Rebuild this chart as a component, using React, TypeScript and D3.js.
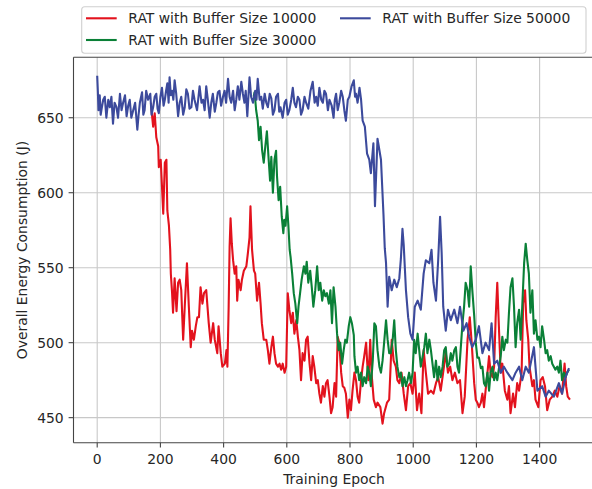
import React from "react";
import * as d3 from "d3";

const xTicks = [0, 200, 400, 600, 800, 1000, 1200, 1400];
const yTicks = [450, 500, 550, 600, 650];

const seriesNames = [
  "RAT with Buffer Size 10000",
  "RAT with Buffer Size 30000",
  "RAT with Buffer Size 50000",
];
const seriesColors = ["#e3121d", "#0a8037", "#3c4a9c"];

// [epoch, energy] — the early parts of the 10000 / 30000 runs lie under the 50000 curve
const rat10000: [number, number][] = [
  [170,660],[172,655],[177,644],[182,653],[187,637],[193,631],[195,617],[201,622],[205,604],[209,586],[214,620],
  [219,622],[222,588],[227,578],[231,562],[233,546],[237,533],[240,520],[245,543],[251,521],[256,540],
  [261,542],[266,535],[272,502],[277,524],[284,553],[290,524],[296,497],[300,508],[306,502],[312,511],
  [317,517],[322,517],[327,537],[333,526],[338,533],[345,535],[353,513],[359,500],[367,513],[372,502],
  [380,493],[384,511],[391,493],[396,484],[404,486],[409,495],[412,484],[416,524],[419,564],[422,583],
  [426,566],[430,555],[435,546],[440,551],[443,528],[447,542],[454,535],[458,542],[464,548],[472,551],
  [477,560],[482,570],[485,591],[490,562],[496,548],[500,546],[506,528],[512,540],[517,526],[521,513],
  [527,502],[535,502],[540,495],[545,486],[551,497],[556,504],[561,493],[566,486],[572,484],[577,486],
  [582,482],[587,486],[593,480],[598,484],[603,533],[608,522],[614,513],[619,520],[624,506],[630,515],
  [635,504],[640,495],[645,475],[650,493],[656,488],[661,502],[666,504],[672,486],[677,475],[682,491],
  [687,484],[693,473],[698,475],[703,466],[708,460],[714,471],[719,464],[724,473],[729,475],[735,464],
  [740,453],[745,457],[751,473],[756,464],[761,504],[766,500],[772,480],[777,471],[782,470],[787,466],
  [793,450],[798,462],[803,455],[808,468],[814,480],[819,475],[824,464],[829,460],[835,475],[840,484],
  [845,491],[851,500],[854,488],[858,475],[864,502],[868,480],[875,462],[882,457],[887,460],[896,457],
  [903,446],[908,453],[917,460],[924,462],[932,502],[938,488],[945,484],[950,475],[956,473],[963,480],
  [970,466],[977,455],[984,471],[991,473],[998,466],[1005,480],[1012,455],[1019,466],[1026,453],[1033,495],
  [1040,480],[1047,466],[1056,468],[1064,466],[1072,473],[1079,477],[1087,468],[1096,482],[1103,493],[1110,480],
  [1117,484],[1124,475],[1132,480],[1140,473],[1148,475],[1156,453],[1163,464],[1172,502],[1179,517],[1185,500],
  [1193,473],[1198,462],[1203,460],[1208,457],[1214,460],[1219,466],[1224,457],[1229,468],[1235,480],[1240,491],
  [1245,480],[1251,477],[1256,484],[1261,517],[1266,540],[1272,506],[1277,480],[1282,486],[1290,468],[1298,462],
  [1303,471],[1308,453],[1316,466],[1322,457],[1329,473],[1335,468],[1343,480],[1348,526],[1354,535],[1358,515],
  [1364,502],[1368,484],[1377,471],[1382,475],[1387,462],[1396,457],[1403,475],[1410,477],[1417,471],[1424,455],
  [1432,462],[1440,464],[1448,468],[1456,464],[1463,471],[1471,466],[1479,486],[1484,471],[1489,464],[1496,462],
];

const rat30000: [number, number][] = [
  [495,664],
  [498,667],[503,655],[508,648],[512,635],[517,644],[522,628],[527,620],[532,631],[537,641],[542,624],
  [547,608],[551,624],[556,600],[561,622],[566,628],[569,611],[574,595],[579,604],[584,584],[589,573],
  [592,582],[596,578],[601,591],[605,578],[609,562],[612,557],[617,546],[622,533],[627,526],[633,513],
  [637,524],[642,533],[647,542],[654,551],[659,546],[663,554],[668,540],[674,548],[679,537],[684,524],
  [690,535],[696,551],[701,535],[706,540],[712,528],[717,535],[722,531],[727,533],[733,526],[738,535],
  [743,513],[748,537],[754,524],[759,506],[764,495],[769,500],[775,486],[780,495],[785,502],[790,500],
  [796,511],[801,517],[806,513],[812,505],[814,491],[819,480],[824,484],[829,475],[835,480],[840,471],
  [845,477],[851,473],[856,484],[861,480],[866,471],[872,488],[877,513],[882,511],[887,495],[893,484],
  [898,480],[903,488],[908,500],[914,515],[919,502],[924,493],[929,493],[935,502],[940,515],[945,495],
  [950,484],[956,477],[961,480],[966,471],[972,477],[977,471],[982,475],[987,480],[993,473],[998,480],
  [1003,502],[1008,493],[1014,506],[1019,495],[1024,484],[1030,491],[1035,497],[1040,506],[1045,493],[1051,502],
  [1056,495],[1061,486],[1066,477],[1072,488],[1077,475],[1082,484],[1087,477],[1093,484],[1098,495],[1103,497],
  [1108,484],[1114,486],[1119,493],[1124,488],[1130,495],[1135,497],[1140,484],[1145,480],[1150,495],[1156,513],
  [1161,524],[1166,540],[1172,535],[1177,524],[1182,551],[1187,535],[1193,518],[1198,500],[1203,490],[1208,490],
  [1214,483],[1219,484],[1224,473],[1229,471],[1235,480],[1240,468],[1245,480],[1251,484],[1256,475],[1261,480],
  [1266,475],[1272,484],[1277,491],[1282,504],[1287,495],[1293,502],[1298,500],[1303,520],[1308,537],[1314,543],
  [1319,524],[1324,497],[1329,513],[1335,522],[1340,502],[1345,524],[1351,553],[1356,566],[1361,555],[1366,546],
  [1371,520],[1377,535],[1382,506],[1387,515],[1393,502],[1398,504],[1403,497],[1408,511],[1414,502],[1419,493],
  [1424,495],[1429,488],[1435,491],[1440,486],[1445,484],[1450,482],[1456,484],[1461,480],[1466,488],[1471,475],
  [1477,480],[1482,477],[1487,480],[1493,482],
];

const rat50000: [number, number][] = [
  [0,678],[2,668],[4,655],[8,665],[11,652],[14,656],[19,662],[24,664],[29,650],[35,662],[40,657],[45,664],[50,646],
  [55,660],[61,657],[66,650],[72,666],[77,655],[82,660],[88,665],[93,651],[98,658],[103,662],[108,650],[114,655],[120,660],[127,642],[131,652],[135,660],[142,667],[146,652],[150,655],
  [155,668],[161,662],[168,666],[172,652],[177,657],[182,664],[187,666],[191,656],[195,653],[200,664],[205,670],[210,658],[214,662],[218,668],[222,673],[226,660],[229,677],[233,665],[237,668],
  [241,662],[245,675],[250,666],[256,651],[261,660],[266,664],[272,652],[277,657],[282,669],[287,666],[292,656],[298,657],[303,668],[308,662],[316,655],[324,671],[330,660],[335,662],[340,655],[345,671],
  [350,662],[356,650],[361,660],[366,666],[372,654],[377,660],[382,667],[387,668],[392,658],[398,664],[403,668],[408,660],[414,676],[419,664],[424,660],[430,668],[435,655],[440,662],[445,671],
  [450,662],[456,674],[461,666],[466,660],[470,668],[475,651],[482,677],[487,664],[493,660],[500,668],[504,662],[508,676],[514,662],[519,664],[524,656],[530,666],[535,660],[540,657],
  [546,666],[551,663],[556,652],[561,655],[566,664],[572,666],[576,654],[580,657],[587,650],[593,660],[598,662],[603,652],[608,655],[614,662],[619,670],[624,660],[629,657],[635,664],[640,662],
  [645,652],[650,655],[656,664],[661,660],[668,656],[675,668],[682,674],[688,660],[693,664],[698,658],[703,670],[709,662],[714,660],[719,668],[724,666],[730,655],[735,662],[742,658],[748,650],
  [752,662],[756,666],[761,655],[766,660],[772,668],[777,664],[782,655],[787,648],[793,662],[798,664],[805,671],[812,675],[816,664],[819,666],[824,660],[830,670],[835,662],
  [840,648],[847,644],[854,626],[861,622],[866,613],[874,633],[879,591],[887,636],[898,622],[906,585],
  [910,563],[914,553],[919,524],[924,544],[932,535],[940,542],[948,537],[956,543],[961,556],[966,576],
  [970,565],[977,535],[984,517],[991,506],[998,502],[1005,524],[1014,528],[1024,522],[1033,546],[1040,555],
  [1051,553],[1058,562],[1064,540],[1072,528],[1079,555],[1085,584],[1090,560],[1095,524],[1103,508],[1110,522],
  [1119,515],[1130,522],[1140,513],[1148,524],[1159,508],[1169,513],[1177,504],[1187,497],[1198,502],[1208,511],
  [1219,493],[1229,500],[1240,495],[1248,513],[1256,486],[1266,488],[1277,480],[1287,484],[1298,480],[1314,475],
  [1324,480],[1335,484],[1345,475],[1356,484],[1366,480],[1382,497],[1393,468],[1408,471],[1419,464],[1429,468],
  [1445,464],[1461,473],[1471,466],[1482,477],[1493,483],
];

const seriesData = [rat10000, rat30000, rat50000];

const W = 592;
const H = 489;
const left = 73.5;
const right = 594.6;
const top = 57.3;
const bottom = 442.7;
const font = "'DejaVu Sans', sans-serif";
const fs = 13.9;

export default function App() {
  const x = d3.scaleLinear().domain([-75, 1574]).range([left, right]);
  const y = d3.scaleLinear().domain([433.3, 690.3]).range([bottom, top]);
  const line = d3
    .line<[number, number]>()
    .x((d) => x(d[0]))
    .y((d) => y(d[1]));

  const legendRows = [
    { i: 0, lx: 86, tx: 128.3, ly: 18.3 },
    { i: 1, lx: 86, tx: 128.3, ly: 40 },
    { i: 2, lx: 340, tx: 382.3, ly: 18.3 },
  ];

  return (
    <svg
      width={W}
      height={H}
      style={{ position: "absolute", left: 0, top: 0, background: "#fff" }}
      fontFamily={font}
    >
      <defs>
        <clipPath id="plot">
          <rect x={left} y={top} width={right - left} height={bottom - top} />
        </clipPath>
      </defs>
      {xTicks.map((t) => (
        <line key={"gx" + t} x1={x(t)} x2={x(t)} y1={top} y2={bottom} stroke="#c8c8c8" strokeWidth={1.1} />
      ))}
      {yTicks.map((t) => (
        <line key={"gy" + t} x1={left} x2={right} y1={y(t)} y2={y(t)} stroke="#c8c8c8" strokeWidth={1.1} />
      ))}
      <g clipPath="url(#plot)">
        {seriesData.map((s, i) => (
          <path
            key={i}
            d={line(s) || ""}
            fill="none"
            stroke={seriesColors[i]}
            strokeWidth={2.1}
            strokeLinejoin="round"
          />
        ))}
      </g>
      <line x1={left} x2={left} y1={top} y2={bottom} stroke="#444" strokeWidth={1.1} />
      <line x1={left} x2={right} y1={bottom} y2={bottom} stroke="#444" strokeWidth={1.1} />
      <line x1={left} x2={right} y1={top} y2={top} stroke="#444" strokeWidth={1.1} />
      <line x1={right} x2={right} y1={top} y2={bottom} stroke="#444" strokeWidth={1.1} />
      {xTicks.map((t) => (
        <g key={"tx" + t}>
          <line x1={x(t)} x2={x(t)} y1={bottom} y2={bottom + 4.9} stroke="#444" strokeWidth={1.1} />
          <text x={x(t)} y={bottom + 21} textAnchor="middle" fontSize={fs} fill="#262626">
            {t}
          </text>
        </g>
      ))}
      {yTicks.map((t) => (
        <g key={"ty" + t}>
          <line x1={left - 4.9} x2={left} y1={y(t)} y2={y(t)} stroke="#444" strokeWidth={1.1} />
          <text x={left - 9.8} y={y(t)} dy="0.36em" textAnchor="end" fontSize={fs} fill="#262626">
            {t}
          </text>
        </g>
      ))}
      <text x={(left + right) / 2} y={484} textAnchor="middle" fontSize={fs} fill="#262626">
        Training Epoch
      </text>
      <text
        transform={`translate(22,${(top + bottom) / 2}) rotate(-90)`}
        textAnchor="middle"
        dy="0.36em"
        fontSize={fs}
        fill="#262626"
      >
        Overall Energy Consumption (J)
      </text>
      <rect x={81.7} y={6.7} width={504.3} height={46.6} rx={3} fill="#fff" fillOpacity={0.8} stroke="#d0d0d0" strokeWidth={1.1} />
      {legendRows.map((r) => (
        <g key={"lg" + r.i}>
          <line x1={r.lx} x2={r.lx + 30.7} y1={r.ly} y2={r.ly} stroke={seriesColors[r.i]} strokeWidth={2.1} />
          <text x={r.tx} y={r.ly} dy="0.36em" fontSize={fs} fill="#262626">
            {seriesNames[r.i]}
          </text>
        </g>
      ))}
    </svg>
  );
}
